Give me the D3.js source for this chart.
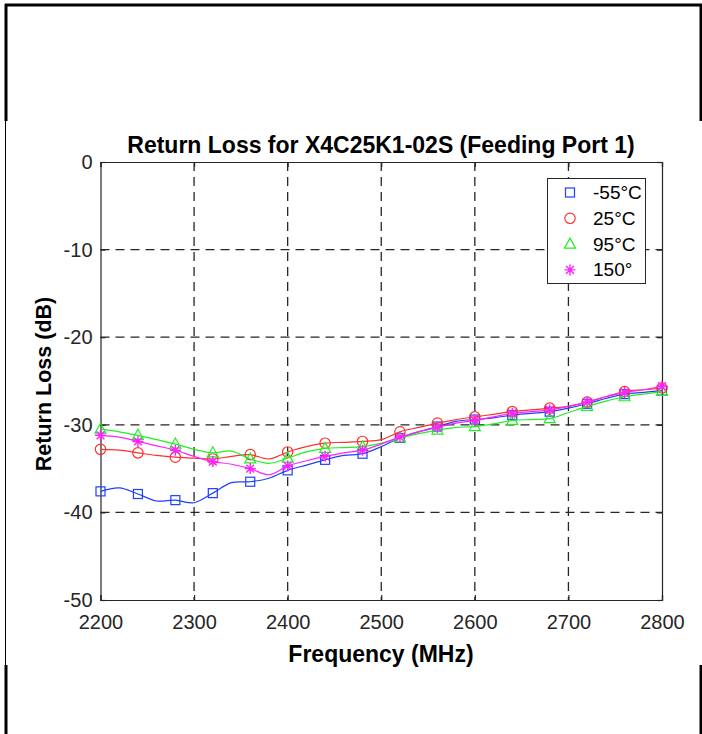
<!DOCTYPE html>
<html>
<head>
<meta charset="utf-8">
<script src="https://cdn.jsdelivr.net/npm/d3@7"></script>
<style>
html,body{margin:0;padding:0;background:#fff;}
svg{display:block;}
text{font-family:"Liberation Sans",Arial,Helvetica,sans-serif;}
</style>
</head>
<body>
<svg id="chart" width="702" height="734"></svg>
<script>
// ---- data ----
const frequencies = d3.range(2200, 2801, 20);
const seriesNames = ["-55°C", "25°C", "95°C", "150°"];
const seriesColors = ["#1f3fff", "#ff3030", "#22ee22", "#ff22ff"];
const seriesSymbols = ["square", "circle", "triangle", "star"];
const minus55 = [-37.6,-37.2,-37.9,-38.7,-38.6,-38.9,-37.8,-36.6,-36.5,-36.1,-35.2,-34.6,-34.0,-33.5,-33.3,-32.5,-31.5,-30.8,-30.2,-29.6,-29.4,-29.2,-28.9,-28.7,-28.5,-28.1,-27.6,-27.0,-26.5,-26.3,-26.1];
const plus25 = [-32.8,-32.9,-33.2,-33.5,-33.7,-33.8,-33.9,-33.6,-33.4,-33.9,-33.1,-32.5,-32.1,-32.0,-31.9,-31.7,-30.8,-30.3,-29.8,-29.4,-29.1,-28.8,-28.5,-28.3,-28.1,-27.9,-27.4,-26.8,-26.2,-26.0,-25.8];
const plus95 = [-30.5,-30.8,-31.2,-31.7,-32.2,-32.8,-33.2,-33.0,-33.9,-34.4,-33.8,-33.1,-32.7,-32.6,-32.5,-32.1,-31.5,-31.0,-30.6,-30.3,-30.2,-29.9,-29.5,-29.4,-29.3,-28.6,-27.9,-27.3,-26.8,-26.5,-26.2];
const plus150 = [-31.2,-31.4,-31.9,-32.4,-32.9,-33.6,-34.2,-34.5,-35.0,-35.7,-34.7,-34.1,-33.6,-33.2,-32.9,-32.2,-31.4,-30.8,-30.3,-29.8,-29.5,-29.1,-28.7,-28.5,-28.3,-27.9,-27.4,-26.8,-26.3,-26.0,-25.6];
const seriesValues = [minus55, plus25, plus95, plus150];
const xTicks = [2200, 2300, 2400, 2500, 2600, 2700, 2800];
const yTicks = [0, -10, -20, -30, -40, -50];
const titleText = "Return Loss for X4C25K1-02S (Feeding Port 1)";
const xLabelText = "Frequency (MHz)";
const yLabelText = "Return Loss (dB)";

// ---- layout ----
const svg = d3.select("#chart");
const L = 100.5, R = 662, T = 162, B = 600;
const x = d3.scaleLinear().domain([2200, 2800]).range([L, R]);
const y = d3.scaleLinear().domain([-50, 0]).range([B, T]);

// outer frame (page border)
const frame = svg.append("g").attr("stroke", "#000").attr("fill", "none");
frame.append("line").attr("x1", 5).attr("x2", 702).attr("y1", 5).attr("y2", 5).attr("stroke-width", 3);
frame.append("line").attr("x1", 6).attr("x2", 6).attr("y1", 4).attr("y2", 121).attr("stroke-width", 3);
frame.append("line").attr("x1", 701).attr("x2", 701).attr("y1", 4).attr("y2", 121).attr("stroke-width", 3);
frame.append("line").attr("x1", 5.5).attr("x2", 5.5).attr("y1", 121).attr("y2", 665).attr("stroke-width", 1);
frame.append("line").attr("x1", 6).attr("x2", 6).attr("y1", 665).attr("y2", 734).attr("stroke-width", 3);
frame.append("line").attr("x1", 701).attr("x2", 701).attr("y1", 665).attr("y2", 734).attr("stroke-width", 3);

// grid
const grid = svg.append("g").attr("stroke", "#262626").attr("stroke-width", 1.3).attr("stroke-dasharray", "9,6");
grid.selectAll(".gx").data(xTicks.slice(1, -1)).enter().append("line")
  .attr("x1", d => x(d)).attr("x2", d => x(d)).attr("y1", T).attr("y2", B);
grid.selectAll(".gy").data(yTicks.slice(1, -1)).enter().append("line")
  .attr("y1", d => y(d)).attr("y2", d => y(d)).attr("x1", L).attr("x2", R);

// axes
const axisColor = "#262626";
const fmt = d => String(d);
const gxB = svg.append("g").attr("transform", `translate(0,${B})`)
  .call(d3.axisBottom(x).tickValues(xTicks).tickSize(-5).tickPadding(15).tickFormat(fmt));
const gxT = svg.append("g").attr("transform", `translate(0,${T})`)
  .call(d3.axisTop(x).tickValues(xTicks).tickSize(-5).tickFormat(""));
const gyL = svg.append("g").attr("transform", `translate(${L},0)`)
  .call(d3.axisLeft(y).tickValues(yTicks).tickSize(-5).tickPadding(8).tickFormat(fmt));
const gyR = svg.append("g").attr("transform", `translate(${R},0)`)
  .call(d3.axisRight(y).tickValues(yTicks).tickSize(-5).tickFormat(""));
[gxB, gxT, gyL, gyR].forEach(g => {
  g.select(".domain").attr("stroke", axisColor).attr("stroke-width", 1.2);
  g.selectAll(".tick line").attr("stroke", axisColor).attr("stroke-width", 1.2);
  g.selectAll(".tick text").attr("fill", "#262626").attr("font-size", 20)
    .attr("font-family", "Liberation Sans, Arial, sans-serif");
});

// lines
const line = d3.line().x((d, i) => x(frequencies[i])).y(d => y(d)).curve(d3.curveCatmullRom.alpha(0.5));

function drawMarker(g, type, color, cx, cy) {
  if (type === "square") {
    g.append("rect").attr("x", cx - 4.5).attr("y", cy - 4.5).attr("width", 9).attr("height", 9)
      .attr("fill", "none").attr("stroke", color).attr("stroke-width", 1.2);
  } else if (type === "circle") {
    g.append("circle").attr("cx", cx).attr("cy", cy).attr("r", 5.2)
      .attr("fill", "none").attr("stroke", color).attr("stroke-width", 1.2);
  } else if (type === "triangle") {
    g.append("path").attr("d", `M${cx},${cy - 6}L${cx + 5.5},${cy + 4}L${cx - 5.5},${cy + 4}Z`)
      .attr("fill", "none").attr("stroke", color).attr("stroke-width", 1.2);
  } else {
    const r = 5.5, p = [];
    for (let k = 0; k < 4; k++) {
      const a = k * Math.PI / 4;
      p.push(`M${cx - r * Math.cos(a)},${cy - r * Math.sin(a)}L${cx + r * Math.cos(a)},${cy + r * Math.sin(a)}`);
    }
    g.append("path").attr("d", p.join("")).attr("stroke", color).attr("stroke-width", 1.4).attr("fill", "none");
  }
}

seriesValues.forEach((vals, si) => {
  const g = svg.append("g");
  g.append("path").datum(vals).attr("d", line).attr("fill", "none")
    .attr("stroke", seriesColors[si]).attr("stroke-width", 1.2);
  vals.forEach((v, i) => {
    if (i % 2 === 0) drawMarker(g, seriesSymbols[si], seriesColors[si], x(frequencies[i]), y(v));
  });
});

// legend
const lg = svg.append("g");
lg.append("rect").attr("x", 547.5).attr("y", 178.5).attr("width", 98).attr("height", 105)
  .attr("fill", "#fff").attr("stroke", "#262626").attr("stroke-width", 1);
seriesNames.forEach((name, i) => {
  const cy = 192.5 + i * 25.8;
  drawMarker(lg, seriesSymbols[i], seriesColors[i], 570, cy);
  lg.append("text").attr("x", 593).attr("y", cy + 6.5).attr("font-size", 19).attr("fill", "#000").text(name);
});

// title & labels
svg.append("text").attr("x", 381).attr("y", 153).attr("text-anchor", "middle")
  .attr("font-size", 23).attr("font-weight", "bold").attr("fill", "#000").text(titleText);
svg.append("text").attr("x", 381).attr("y", 662).attr("text-anchor", "middle")
  .attr("font-size", 23).attr("font-weight", "bold").attr("fill", "#000").text(xLabelText);
svg.append("text").attr("transform", "translate(51,384) rotate(-90)").attr("text-anchor", "middle")
  .attr("font-size", 21.5).attr("font-weight", "bold").attr("fill", "#000").text(yLabelText);
</script>
</body>
</html>
